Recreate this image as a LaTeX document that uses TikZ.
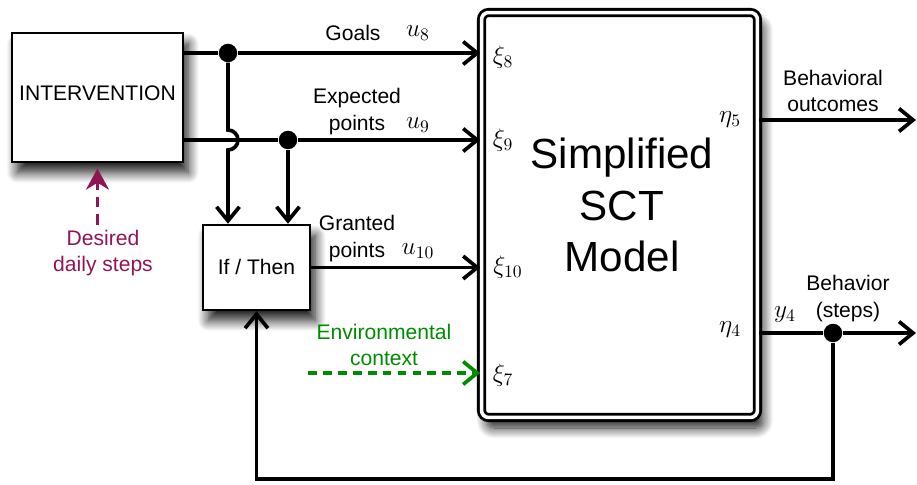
\documentclass[tikz,border=0pt]{standalone}
\usepackage{fontspec}
\setmainfont{Liberation Sans}
\usetikzlibrary{arrows.meta,shadows.blur}

\definecolor{desired}{RGB}{145,20,85}
\definecolor{envgreen}{RGB}{0,140,0}

\begin{document}
\begin{tikzpicture}[x=0.02cm, y=0.02cm]

        % Styles
        \tikzstyle{block}=[draw, line width=1.4pt, fill=white, inner sep=0pt,
            blur shadow={shadow xshift=3pt, shadow yshift=-6pt, shadow blur radius=6pt, shadow blur steps=12, shadow opacity=90}]
        \tikzstyle{flow}=[line width=2.1pt, -{Straight Barb[length=8pt,width=13pt,line width=2.1pt]}]
        \tikzstyle{wire}=[line width=2.1pt]
        \tikzstyle{junction}=[circle, fill=black, inner sep=0pt, minimum size=0.37cm]
        \tikzstyle{label text}=[font=\fontsize{12}{15}\selectfont, align=center, inner sep=0pt]
        \tikzstyle{port}=[font=\fontsize{14.5}{17}\selectfont, inner sep=0pt]
        \useasboundingbox (0,0) rectangle (917,484);

        %The blocks
        \node[block, minimum width=3.42cm, minimum height=2.58cm, label text] (interv) at (97.5,386.5) {\raisebox{5pt}{INTERVENTION}};
        \node[block, minimum width=2.14cm, minimum height=1.70cm, label text] (ifthen) at (256.5,216.5) {\raisebox{1pt}{If / Then}};
        \node[block, minimum width=5.52cm, minimum height=8.1cm, rounded corners=4pt,
              line width=1.6pt, double, double distance=2pt] (sct) at (619.5,269) {};
        \node[align=center, inner sep=0pt, font=\fontsize{24}{29.5}\selectfont] (sctname) at (622,279) {Simplified\\SCT\\Model};

        % ports of the model
        \node[port] (xi8)  at (503,427) {$\xi_8$};
        \node[port] (xi9)  at (503,344) {$\xi_9$};
        \node[port] (xi10) at (508,217) {$\xi_{10}$};
        \node[port] (xi7)  at (503,109) {$\xi_7$};
        \node[port] (eta5) at (730,364) {$\eta_5$};
        \node[port] (eta4) at (730,154) {$\eta_4$};

        %junctions
        \node[junction] (j1) at (228,431) {};
        \node[junction] (j2) at (288,344) {};
        \node[junction] (j3) at (833,151) {};
        \coordinate (envsrc)   at (308,111);
        \coordinate (outcomes) at (916,364);
        \coordinate (steps)    at (916,151);
        \coordinate (target)   at (97.5,259);

        %signals into the model
        \draw[wire] (interv.east |- j1) -- (j1);
        \draw[flow] (j1) -- (sct.west |- j1);
        \draw[wire] (interv.east |- j2) -- (j2);
        \draw[flow] (j2) -- (sct.west |- j2);
        \draw[flow] (j1) -- (228,354) arc[start angle=90, end angle=-90, radius=0.2cm] -- (ifthen.north -| j1);
        \draw[flow] (j2) -- (ifthen.north -| j2);
        \draw[flow] (ifthen.east) -- (sct.west |- ifthen.east);
        \draw[flow, envgreen, dash pattern=on 5pt off 3.5pt] (envsrc) -- (sct.west |- envsrc);

        %outputs and feedback
        \draw[flow] (sct.east |- outcomes) -- (outcomes);
        \draw[wire] (sct.east |- steps) -- (j3);
        \draw[flow] (j3) -- (steps);
        \draw[flow] (j3) -- (j3 |- 0,5) -| (ifthen.south);
        \draw[line width=2.1pt, desired, dash pattern=on 6pt off 4pt, -{Stealth[length=12pt,width=13pt]}, shorten >=3pt] (target) -- (interv.south);

        %labels
        \node[label text] (goals)    at (353,451)   {Goals};
        \node[port]       (u8)       at (418,451)   {$u_8$};
        \node[label text] (expected) at (357,372.5) {Expected\\points};
        \node[port]       (u9)       at (418,359)   {$u_9$};
        \node[label text] (granted)  at (357,245.5) {Granted\\points};
        \node[port]       (u10)      at (418,233)   {$u_{10}$};
        \node[label text, text=envgreen] (context) at (384,139) {Environmental\\context};
        \node[label text, text=desired]  (daily)   at (103,231) {Desired\\daily steps};
        \node[label text] (outlabel)  at (833,393)   {Behavioral\\outcomes};
        \node[label text] (steplabel) at (848,185.5) {Behavior\\(steps)};
        \node[port]       (y4)        at (785,169)   {$y_4$};
\end{tikzpicture}
\end{document}
